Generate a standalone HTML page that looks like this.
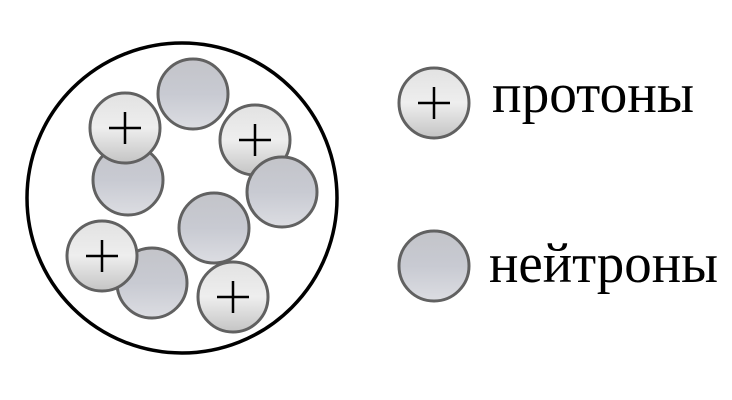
<!DOCTYPE html>
<html><head><meta charset="utf-8"><style>body{margin:0;background:#fff}svg{display:block}text{font-family:"Liberation Serif","DejaVu Serif",serif}</style></head><body>
<svg width="732" height="400" viewBox="0 0 732 400" xmlns="http://www.w3.org/2000/svg">
<defs>
<linearGradient id="pg" x1="0" y1="0" x2="0" y2="1"><stop offset="0" stop-color="#e2e2e2"/><stop offset="0.5" stop-color="#eeeeee"/><stop offset="1" stop-color="#c4c4c4"/></linearGradient>
<linearGradient id="ng" x1="0" y1="0" x2="0" y2="1"><stop offset="0" stop-color="#c3c4c9"/><stop offset="0.5" stop-color="#c8cad2"/><stop offset="1" stop-color="#dcdde2"/></linearGradient>
<g id="p"><circle r="35" fill="url(#pg)" stroke="#616161" stroke-width="3"/><path d="M-16 0H16M0 -16V16" stroke="#000" stroke-width="2.5"/></g>
<g id="n"><circle r="35" fill="url(#ng)" stroke="#616161" stroke-width="3"/></g>
</defs>
<circle cx="182" cy="198" r="155" fill="#fff" stroke="#000" stroke-width="3.5"/>
<use href="#n" x="193" y="94"/>
<use href="#n" x="128" y="180"/>
<use href="#n" x="214" y="228"/>
<use href="#n" x="152" y="283"/>
<use href="#p" x="125" y="128"/>
<use href="#p" x="255" y="140"/>
<use href="#n" x="282" y="192"/>
<use href="#p" x="102" y="256"/>
<use href="#p" x="233" y="297"/>
<use href="#p" x="434" y="103"/>
<use href="#n" x="434" y="266"/>
<text x="492" y="112" font-size="56" fill="#000" textLength="202" lengthAdjust="spacingAndGlyphs">протоны</text>
<text x="489" y="282" font-size="56" fill="#000" textLength="229" lengthAdjust="spacingAndGlyphs">нейтроны</text>
</svg>
</body></html>
